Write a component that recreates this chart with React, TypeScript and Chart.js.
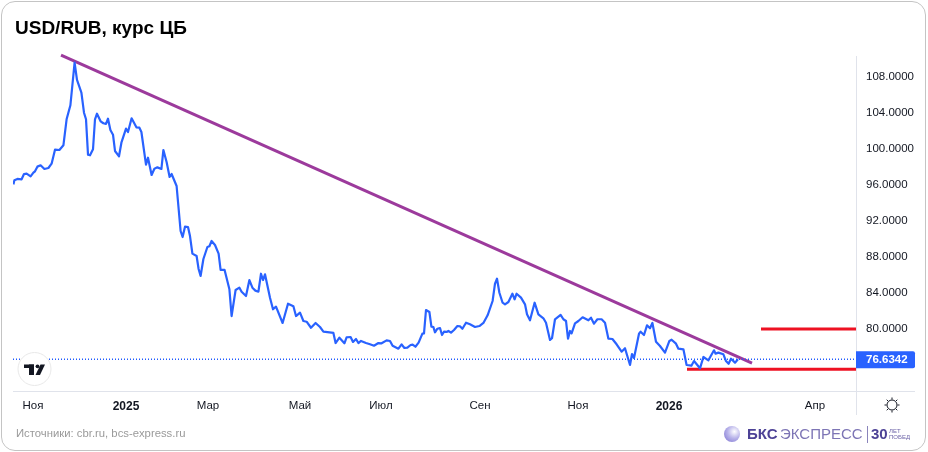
import { useEffect, useRef } from 'react';
import { Chart, registerables } from 'chart.js';

Chart.register(...registerables);

// x is the position on the time axis, counted in bars
const bars = [
  0.2, 0.7, 2.2, 4.3, 5.5, 6.8, 8.8, 10.2, 11, 12.2, 13.8, 15.7, 17.7, 19.3, 21, 23.2, 25.2, 26.8, 28.7, 30.8,
  32, 34.2, 35.5, 36.5, 37.5, 38.5, 40, 41, 42, 43.8, 45.2, 46.5, 47.5, 48.7, 50, 51, 53, 54.2, 56.5, 57.5,
  59.3, 61.7, 63.2, 64.2, 66.5, 67.5, 69.3, 70.7, 72.2, 74.2, 75.2, 76.8, 78.3, 79.3, 81.8, 83.8, 84.8, 86, 87.5, 88.5,
  89.7, 91.8, 92.8, 93.8, 95.2, 97.2, 98.2, 99.3, 101, 102.8, 103.8, 105.8, 108.2, 109.3, 111.3, 113.2, 114.3, 116.5, 118.2, 119.7,
  121.2, 122.7, 124, 125, 126, 128.5, 130, 131.5, 134.8, 137.5, 140.2, 141.5, 143.5, 145.2, 146.8, 149, 151.3, 153.5, 155.2, 160.2,
  161.3, 163.2, 165.7, 166.8, 168.8, 170, 171.5, 172.7, 174, 176.5, 178.5, 180.5, 182.7, 184.3, 186.8, 188.5, 189.8, 192.7, 194.3, 195.7,
  197.2, 198.8, 199.8, 201.2, 202.8, 204.7, 205.5, 206.5, 208.2, 209.2, 210.2, 211, 212.2, 213.5, 214.5, 215.5, 216.8, 217.7, 219, 220.5,
  222.2, 223.5, 224.7, 226.5, 228.5, 231, 233.2, 235.2, 237.3, 239.8, 241, 242, 243.2, 244.8, 246, 247.7, 249.7, 250.8, 251.8, 254,
  256, 257, 258.5, 260.8, 262.7, 265.2, 266.5, 268.5, 269.5, 271, 273.8, 275.2, 276.5, 277.5, 278.5, 279.3, 281, 282.7, 284.8, 287.7,
  289, 290.5, 292.2, 294.3, 296, 297.7, 299.7, 301.8, 304.3, 306, 308.5, 309.5, 310.5, 313, 313.8, 315.5, 317, 318.5, 319.7, 321.5,
  323.5, 326, 328.2, 329.3, 331.5, 332.7, 335.2, 336.8, 339.2, 340.5, 343.5, 345.2, 347.7, 350.5, 351.3, 352.7, 355.2, 356.5, 357.8, 359,
  361, 362.5,
];
const rates = [
  96.07, 96.52, 96.67, 96.63, 97.22, 97.26, 96.96, 97.37, 97.52, 98.04, 98.19, 97.78, 97.89, 98.37, 99.92, 99.89, 100.41, 103.3, 104.86, 109.59,
  107.67, 106.26, 104.03, 103.3, 99.37, 99.3, 99.97, 103.3, 103.92, 103.08, 102.86, 102.78, 103.37, 102.11, 101.59, 99.78, 99.19, 100.7, 102.26, 101.89,
  103.41, 102.41, 102.37, 101.89, 98.26, 99.03, 97.11, 97.81, 97.96, 97.78, 99.89, 98.56, 96.89, 97.22, 95.89, 90.89, 90.22, 91.37, 91.33, 90.33,
  88.37, 88.11, 86.67, 85.89, 87.78, 89.11, 89.19, 89.78, 89.33, 88.37, 86.56, 86.56, 84.41, 81.44, 84.33, 84.59, 84.14, 83.67, 85.44, 84.59,
  84.26, 84.14, 86.14, 85.44, 86.08, 83.48, 82.19, 82.48, 80.67, 82.81, 82.52, 81.44, 81.81, 80.89, 80.81, 80.14, 80.67, 80.22, 79.7, 79.56,
  78.44, 79.03, 78.41, 79.08, 79.11, 78.56, 78.89, 78.44, 78.67, 78.44, 78.3, 78.14, 78.44, 78.41, 78.74, 78.67, 78.14, 77.81, 78.3, 77.89,
  77.92, 78.22, 78.26, 78.03, 78.48, 79.48, 79.52, 82.11, 81.89, 80.26, 80.22, 79.63, 80.03, 80.11, 79.33, 79.7, 79.67, 79.78, 79.59, 79.89,
  80.33, 80.3, 80.03, 80.7, 80.52, 80.22, 80.33, 80.67, 81.52, 83.11, 85.03, 85.59, 84.03, 82.92, 82.74, 83, 83.92, 83.3, 83.92, 83.48,
  82.74, 81.63, 80.97, 82.92, 81.63, 81.19, 80.7, 78.78, 78.97, 81.08, 81.56, 81.08, 80.89, 78.92, 79.78, 79.52, 80.63, 80.89, 81.3, 80.97,
  81.26, 80.59, 81.08, 81.08, 80.7, 78.92, 78.89, 78.3, 77.48, 77.86, 76, 77.22, 76.78, 79.48, 79.7, 79.33, 80.41, 80.08, 80.67, 78.59,
  78.11, 77.37, 78.67, 78.81, 78.37, 77.81, 77.74, 76, 75.92, 76.44, 75.63, 76.89, 76.52, 77.63, 77.26, 77.37, 77.19, 76.44, 76.14, 76.7,
  76.26, 76.63,
];

const lastPrice = 76.6342;
const priceTicks = [76, 80, 84, 88, 92, 96, 100, 104, 108];
const timeTicks = [10, 56.5, 97.5, 143.5, 184, 233.5, 282.5, 328, 401];
const timeLabels = ['Ноя', '2025', 'Мар', 'Май', 'Июл', 'Сен', 'Ноя', '2026', 'Апр'];
const boldLabels = ['2025', '2026'];

// drawings on top of the chart
const trendBars = [24, 369.5];
const trendValues = [110.44, 76.2];
const upperLevelBars = [374, 421.5];
const upperLevel = 80;
const lowerLevelBars = [337, 421.5];
const lowerLevel = 75.52;

const FONT = '"Liberation Sans", sans-serif';
const AXIS = '#e0e3eb';

const pairs = (xs: number[], ys: number[]) => xs.map((x, i) => ({ x, y: ys[i] }));

const decor = {
  id: 'decor',
  beforeDatasetsDraw(chart: any) {
    const { ctx, chartArea } = chart;
    ctx.save();
    ctx.strokeStyle = AXIS;
    ctx.lineWidth = 1;
    ctx.beginPath();
    ctx.moveTo(chartArea.left, chartArea.bottom + 0.5);
    ctx.lineTo(915, chartArea.bottom + 0.5);
    ctx.moveTo(chartArea.right + 0.5, 56);
    ctx.lineTo(chartArea.right + 0.5, 415);
    ctx.stroke();
    ctx.restore();
  },
  afterDraw(chart: any) {
    const { ctx, scales } = chart;
    const y = scales.y.getPixelForValue(lastPrice);
    ctx.save();

    // last price tag
    ctx.fillStyle = '#2962ff';
    ctx.beginPath();
    ctx.roundRect(856, y - 8, 59, 17, [0, 2, 2, 0]);
    ctx.fill();
    ctx.fillStyle = '#ffffff';
    ctx.font = 'bold 11.5px ' + FONT;
    ctx.textBaseline = 'middle';
    ctx.fillText(lastPrice.toFixed(4), 866, y + 0.5);

    // TradingView badge
    ctx.beginPath();
    ctx.arc(34.5, 369, 16.5, 0, Math.PI * 2);
    ctx.fillStyle = '#ffffff';
    ctx.fill();
    ctx.strokeStyle = '#e8e8e8';
    ctx.stroke();
    ctx.fillStyle = '#131722';
    ctx.fillRect(24, 364.5, 10, 3.5);
    ctx.fillRect(29, 364.5, 5, 10.5);
    ctx.beginPath();
    ctx.arc(37.5, 366.3, 1.9, 0, Math.PI * 2);
    ctx.fill();
    ctx.beginPath();
    ctx.moveTo(40.5, 364.5);
    ctx.lineTo(45, 364.5);
    ctx.lineTo(40, 375);
    ctx.lineTo(35.5, 375);
    ctx.fill();

    // sun icon in the corner cell
    ctx.strokeStyle = '#131722';
    ctx.lineWidth = 1;
    ctx.beginPath();
    ctx.arc(892, 405, 5, 0, Math.PI * 2);
    ctx.stroke();
    for (let i = 0; i < 8; i++) {
      const a = (i * Math.PI) / 4;
      ctx.beginPath();
      ctx.moveTo(892 + Math.cos(a) * 5.5, 405 + Math.sin(a) * 5.5);
      ctx.lineTo(892 + Math.cos(a) * 7.5, 405 + Math.sin(a) * 7.5);
      ctx.stroke();
    }
    ctx.restore();
  },
};

const App = () => {
  const chartRef = useRef<HTMLCanvasElement | null>(null);

  useEffect(() => {
    if (!chartRef.current) return;
    const chart = new Chart(chartRef.current, {
      type: 'line',
      data: {
        datasets: [
          {
            data: [{ x: 0, y: lastPrice }, { x: 421.5, y: lastPrice }],
            borderColor: '#1f5bff',
            borderWidth: 1.5,
            borderDash: [1, 2],
            pointRadius: 0,
          },
          {
            data: pairs(bars, rates),
            borderColor: '#2962ff',
            borderWidth: 2.2,
            borderJoinStyle: 'round',
            pointRadius: 0,
          },
          {
            data: pairs(trendBars, trendValues),
            borderColor: '#9c3a9c',
            borderWidth: 3,
            pointRadius: 0,
          },
          {
            data: pairs(upperLevelBars, [upperLevel, upperLevel]),
            borderColor: '#ee1122',
            borderWidth: 3,
            pointRadius: 0,
          },
          {
            data: pairs(lowerLevelBars, [lowerLevel, lowerLevel]),
            borderColor: '#ee1122',
            borderWidth: 3,
            pointRadius: 0,
          },
        ],
      },
      options: {
        animation: false,
        responsive: false,
        parsing: false,
        layout: { padding: { left: 13, top: 50, right: 0, bottom: 0 } },
        plugins: { legend: { display: false }, tooltip: { enabled: false } },
        scales: {
          x: {
            type: 'linear',
            min: 0,
            max: 421.5,
            grid: { display: false, drawTicks: false },
            border: { display: false },
            afterFit: (scale: any) => { scale.height = 61; },
            afterBuildTicks: (scale: any) => { scale.ticks = timeTicks.map((value) => ({ value })); },
            ticks: {
              maxRotation: 0,
              autoSkip: false,
              padding: 8,
              color: '#131722',
              callback: (value: any) => timeLabels[timeTicks.indexOf(value)],
              font: (ctx: any) => {
                const bold = boldLabels.includes(timeLabels[timeTicks.indexOf(ctx.tick?.value)]);
                return { family: FONT, size: bold ? 12 : 11.5, weight: bold ? 'bold' : 'normal' };
              },
            },
          },
          y: {
            type: 'linear',
            position: 'right',
            min: 73.11,
            max: 111,
            grid: { display: false, drawTicks: false },
            border: { display: false },
            afterFit: (scale: any) => { scale.width = 72; },
            afterBuildTicks: (scale: any) => { scale.ticks = priceTicks.map((value) => ({ value })); },
            ticks: {
              padding: 10,
              color: '#131722',
              font: { family: FONT, size: 11.5 },
              callback: (value: any) => Number(value).toFixed(4),
            },
          },
        },
      },
      plugins: [decor],
    } as any);

    return () => {
      chart.destroy();
    };
  }, []);

  return (
    <div style={{ position: 'absolute', left: 0, top: 0, width: 928, height: 452, background: '#fff', overflow: 'hidden' }}>
      <canvas ref={chartRef} width={928} height={452} style={{ display: 'block' }}></canvas>
      <div style={{ position: 'absolute', left: 1, top: 1, width: 923, height: 448, border: '1px solid #c4c4c4', borderRadius: 14, pointerEvents: 'none' }} />
      <div style={{ position: 'absolute', left: 15, top: 17, font: 'bold 19px "Liberation Sans", sans-serif', color: '#000', whiteSpace: 'nowrap' }}>
        USD/RUB, курс ЦБ
      </div>
      <div style={{ position: 'absolute', left: 16, top: 427, font: '11.3px "Liberation Sans", sans-serif', color: '#9a9a9a', whiteSpace: 'nowrap' }}>
        Источники: cbr.ru, bcs-express.ru
      </div>
      <div style={{ position: 'absolute', left: 724, top: 426, width: 16, height: 16, borderRadius: 8, background: 'radial-gradient(circle at 65% 35%, #ffffff, #b9b4ea 45%, #7a70cf)' }} />
      <div style={{ position: 'absolute', left: 747, top: 425, font: 'bold 15px "Liberation Sans", sans-serif', color: '#4d4296', whiteSpace: 'nowrap' }}>БКС</div>
      <div style={{ position: 'absolute', left: 780, top: 425, font: '15px "Liberation Sans", sans-serif', color: '#7d75b5', whiteSpace: 'nowrap' }}>ЭКСПРЕСС</div>
      <div style={{ position: 'absolute', left: 867, top: 426, width: 1, height: 17, background: '#8a84bb' }} />
      <div style={{ position: 'absolute', left: 871, top: 425, font: 'bold 15px "Liberation Sans", sans-serif', color: '#4d4296', whiteSpace: 'nowrap' }}>30</div>
      <div style={{ position: 'absolute', left: 889, top: 428, font: '6px/6px "Liberation Sans", sans-serif', color: '#6d64a8', whiteSpace: 'nowrap' }}>
        ЛЕТ<br />ПОБЕД
      </div>
    </div>
  );
};

export default App;
